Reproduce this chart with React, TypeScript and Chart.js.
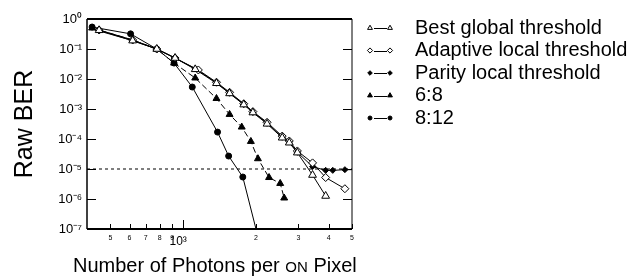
import React, { useEffect, useRef } from 'react';
import { Chart, registerables } from 'chart.js';
import { drawPoint } from 'chart.js/helpers';

Chart.register(...registerables);

const FONT = "'Liberation Sans', Arial, Helvetica, sans-serif";

const seriesNames = [
  'Best global threshold',
  'Adaptive local threshold',
  'Parity local threshold',
  '6:8',
  '8:12',
];

const photonsGlobal = [449, 618, 778, 926, 1122, 1374, 1557, 1782, 1944, 2225, 2570, 2750, 2970, 3433, 3890];
const berGlobal = [0.42, 0.19, 0.1, 0.05, 0.021, 0.0072, 0.0033, 0.0014, 7.6e-4, 3.2e-4, 1.1e-4, 7.5e-5, 3.5e-5, 6.3e-6, 1.26e-6];

const photonsAdaptive = [449, 618, 778, 926, 1156, 1374, 1557, 1782, 1944, 2225, 2570, 2750, 2970, 3433, 3890, 4672];
const berAdaptive = [0.43, 0.2, 0.1, 0.05, 0.02, 0.0078, 0.0036, 0.0015, 8.2e-4, 3.6e-4, 1.25e-4, 8.6e-5, 4e-5, 1.6e-5, 5.2e-6, 2.2e-6];

const photonsParity = [449, 618, 778, 926, 1122, 1374, 1557, 1782, 1944, 2225, 2570, 2750, 2970, 3433, 3890, 4162, 4672, 5400];
const berParity = [0.4, 0.19, 0.1, 0.05, 0.022, 0.0075, 0.0034, 0.00145, 7.9e-4, 3.4e-4, 1.15e-4, 8e-5, 3.6e-5, 1.2e-5, 9e-6, 9e-6, 9.5e-6, 9.5e-6];

const photons68 = [420, 618, 778, 917, 1122, 1374, 1557, 1748, 1907, 2040, 2268, 2522, 2620];
const ber68 = [0.5, 0.2, 0.1, 0.034, 0.0108, 0.00224, 6.6e-4, 2.5e-4, 8.3e-5, 2.2e-5, 5.2e-6, 3.3e-6, 1.08e-6];

const photons812 = [420, 606, 778, 917, 1091, 1388, 1543, 1766, 2100];
const ber812 = [0.54, 0.32, 0.1, 0.034, 0.0054, 1.7e-4, 2.7e-5, 5.4e-6, 2.2e-8];

const thresholdPhotons = [400, 5000];
const thresholdBER = [1e-5, 1e-5];

const xTickValues = [500, 600, 700, 800, 900, 1000, 2000, 3000, 4000, 5000];
const xTickLabels = ['5', '6', '7', '8', '9', '10³', '2', '3', '4', '5'];
const yTickValues = [1e-7, 1e-6, 1e-5, 1e-4, 1e-3, 1e-2, 1e-1, 1];
const yTickLabels = ['10⁻⁷', '10⁻⁶', '10⁻⁵', '10⁻⁴', '10⁻³', '10⁻²', '10⁻¹', '10⁰'];

const toPoints = (xs: number[], ys: number[]) => xs.map((x, i) => ({ x, y: ys[i] }));

const markerStyles = [
  { pointStyle: 'triangle', radius: 4.5, fill: '#fff', legendRadius: 2.8 },
  { pointStyle: 'rectRot', radius: 4, fill: '#fff', legendRadius: 2.6 },
  { pointStyle: 'rectRot', radius: 3, fill: '#000', legendRadius: 2.3 },
  { pointStyle: 'triangle', radius: 4, fill: '#000', legendRadius: 2.8 },
  { pointStyle: 'circle', radius: 3, fill: '#000', legendRadius: 2 },
];

const framePlugin = {
  id: 'frame',
  afterDraw(chart: any) {
    const { ctx, chartArea, scales } = chart;
    const { left, right, top, bottom } = chartArea;
    const x = scales.x;
    const y = scales.y;
    ctx.save();
    ctx.strokeStyle = '#000';
    ctx.lineCap = 'butt';
    // box
    ctx.lineWidth = 2;
    ctx.beginPath();
    ctx.moveTo(left, bottom);
    ctx.lineTo(right, bottom);
    ctx.moveTo(left, top);
    ctx.lineTo(right, top);
    ctx.stroke();
    ctx.lineWidth = 1.5;
    ctx.beginPath();
    ctx.moveTo(left, top);
    ctx.lineTo(left, bottom);
    ctx.stroke();
    ctx.lineWidth = 1;
    ctx.beginPath();
    ctx.moveTo(right, top);
    ctx.lineTo(right, bottom);
    ctx.stroke();
    // y ticks (inner, both sides)
    ctx.lineWidth = 1;
    ctx.beginPath();
    yTickValues.forEach((v) => {
      const py = Math.round(y.getPixelForValue(v)) + 0.5;
      ctx.moveTo(left, py);
      ctx.lineTo(left + 9, py);
      ctx.moveTo(right, py);
      ctx.lineTo(right - 9, py);
    });
    // x ticks (inner)
    xTickValues.forEach((v) => {
      const px = Math.round(x.getPixelForValue(v)) + 0.5;
      const len = v === 1000 ? 9 : 5;
      ctx.moveTo(px, bottom);
      ctx.lineTo(px, bottom - len);
    });
    ctx.stroke();

    // x title with small caps "ON"
    ctx.fillStyle = '#000';
    ctx.textBaseline = 'alphabetic';
    ctx.textAlign = 'left';
    const parts: [string, number][] = [
      ['Number of Photons per ', 20],
      ['ON', 15],
      [' Pixel', 20],
    ];
    let cx = 73;
    const by = 272;
    parts.forEach(([t, s]) => {
      ctx.font = `${s}px ${FONT}`;
      ctx.fillText(t, cx, by);
      cx += ctx.measureText(t).width;
    });

    // legend
    const rowY = [28, 50.5, 73, 95.5, 118];
    seriesNames.forEach((name, i) => {
      const ms = markerStyles[i];
      const yy = rowY[i];
      ctx.lineWidth = 1;
      ctx.strokeStyle = '#000';
      ctx.beginPath();
      ctx.moveTo(374, Math.round(yy) + 0.5);
      ctx.lineTo(387, Math.round(yy) + 0.5);
      ctx.stroke();
      [370, 390].forEach((mx) => {
        ctx.fillStyle = ms.fill;
        ctx.strokeStyle = '#000';
        ctx.lineWidth = 1;
        drawPoint(ctx, { pointStyle: ms.pointStyle as any, rotation: 0, radius: ms.legendRadius, borderWidth: 1 }, mx, yy);
      });
      ctx.fillStyle = '#000';
      ctx.font = `20px ${FONT}`;
      ctx.textBaseline = 'middle';
      ctx.fillText(name, 415, yy);
    });
    ctx.restore();
  },
};

export default function App() {
  const ref = useRef<HTMLCanvasElement | null>(null);

  useEffect(() => {
    document.body.style.margin = '0';
    const canvas = ref.current;
    if (!canvas) return;
    const seriesData = [
      toPoints(photonsGlobal, berGlobal),
      toPoints(photonsAdaptive, berAdaptive),
      toPoints(photonsParity, berParity),
      toPoints(photons68, ber68),
      toPoints(photons812, ber812),
    ];
    const datasets: any[] = seriesData.map((data, i) => ({
      label: seriesNames[i],
      data,
      borderColor: '#000',
      borderWidth: 1,
      backgroundColor: markerStyles[i].fill,
      pointStyle: markerStyles[i].pointStyle,
      pointRadius: markerStyles[i].radius,
      pointBorderColor: '#000',
      pointBackgroundColor: markerStyles[i].fill,
      pointBorderWidth: 1,
      borderDash: i === 3 ? [6, 3] : [],
      tension: 0,
      fill: false,
    }));
    datasets.push({
      label: 'threshold',
      data: toPoints(thresholdPhotons, thresholdBER),
      borderColor: '#000',
      borderWidth: 1,
      borderDash: [3, 3],
      pointRadius: 0,
      fill: false,
    });

    const chart = new Chart(canvas, {
      type: 'line',
      data: { datasets },
      options: {
        animation: false,
        responsive: false,
        devicePixelRatio: 1,
        layout: { padding: { left: 0, right: 288, top: 19, bottom: 0 } },
        plugins: { legend: { display: false }, tooltip: { enabled: false } },
        scales: {
          x: {
            type: 'logarithmic',
            min: 400,
            max: 5000,
            grid: { display: false, drawTicks: false },
            border: { display: false },
            afterBuildTicks: (scale: any) => {
              scale.ticks = xTickValues.map((v) => ({ value: v }));
            },
            afterFit: (scale: any) => {
              scale.height = 51;
            },
            ticks: {
              autoSkip: false,
              maxRotation: 0,
              padding: 5,
              color: '#000',
              font: (ctx: any) => ({
                family: FONT,
                size: ctx.tick && ctx.tick.value === 1000 ? 12 : 7,
              }),
              callback: (value: any) => {
                const idx = xTickValues.indexOf(Number(value));
                if (idx < 0) return '';
                return Number(value) === 1000 ? xTickLabels[idx] + '   ' : xTickLabels[idx];
              },
            },
          },
          y: {
            type: 'logarithmic',
            min: 1e-7,
            max: 1,
            grid: { display: false, drawTicks: false },
            border: { display: false },
            afterBuildTicks: (scale: any) => {
              scale.ticks = yTickValues.map((v) => ({ value: v }));
            },
            afterFit: (scale: any) => {
              scale.width = 87;
            },
            title: {
              display: true,
              text: 'Raw BER',
              color: '#000',
              font: { family: FONT, size: 25 },
              padding: { top: 10, bottom: 0 },
            },
            ticks: {
              autoSkip: false,
              padding: 5,
              color: '#000',
              font: { family: FONT, size: 13 },
              callback: (value: any) => {
                const idx = yTickValues.findIndex((v) => Math.abs(Math.log10(v) - Math.log10(Number(value))) < 1e-6);
                return idx >= 0 ? yTickLabels[idx] : '';
              },
            },
          },
        },
      },
      plugins: [framePlugin],
    });
    return () => chart.destroy();
  }, []);

  return (
    <div style={{ position: 'fixed', left: 0, top: 0, width: 640, height: 280, background: '#fff' }}>
      <canvas ref={ref} width={640} height={280} style={{ width: 640, height: 280, display: 'block' }} />
    </div>
  );
}
